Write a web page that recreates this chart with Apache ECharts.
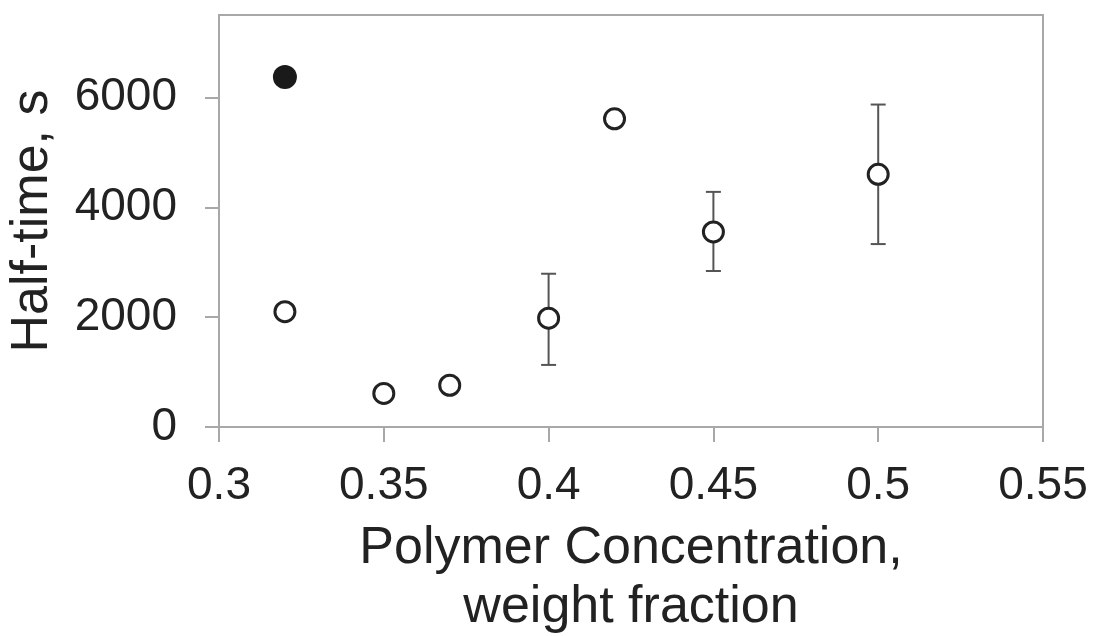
<!DOCTYPE html>
<html>
<head>
<meta charset="utf-8">
<title>Half-time vs polymer concentration</title>
<script src="https://cdn.jsdelivr.net/npm/echarts@6/dist/echarts.min.js"></script>
<style>
  html, body { margin: 0; padding: 0; background: #fff; }
  #chart { width: 1093px; height: 636px; }
</style>
</head>
<body>
<div id="chart"></div>
<script>
// Polymer concentration (weight fraction) and measured half-time (s)
const concentration = [0.32, 0.35, 0.37, 0.40, 0.42, 0.45, 0.50];
const halfTime      = [2100, 610, 760, 1980, 5610, 3550, 4600];
// Error bar bounds (null where no bar is drawn)
const errLow  = [null, null, null, 1130, null, 2840, 3330];
const errHigh = [null, null, null, 2790, null, 4280, 5870];
// Separate filled-marker measurement
const filledConcentration = [0.32];
const filledHalfTime      = [6370];
// Axis tick values
const xTicks = [0.3, 0.35, 0.4, 0.45, 0.5, 0.55];
const yTicks = [0, 2000, 4000, 6000];

const FONT = "'Liberation Sans', Arial, Helvetica, sans-serif";
const TEXT = '#222222';
const FRAME = '#a8a8a8';

const openPoints = concentration.map((c, i) => [c, halfTime[i]]);
const filledPoints = filledConcentration.map((c, i) => [c, filledHalfTime[i]]);
const errorBars = concentration
  .map((c, i) => [c, errLow[i], errHigh[i]])
  .filter(d => d[1] != null && d[2] != null);

const chart = echarts.init(document.getElementById('chart'), null, { renderer: 'canvas' });

chart.setOption({
  animation: false,
  backgroundColor: '#ffffff',
  grid: {
    left: 219, right: 50, top: 15, bottom: 209,
    containLabel: false,
    outerBoundsMode: 'none',
    show: true, borderColor: FRAME, borderWidth: 2, backgroundColor: 'transparent'
  },
  xAxis: {
    type: 'value',
    min: 0.3, max: 0.55,
    name: 'Polymer Concentration,\nweight fraction',
    nameLocation: 'middle',
    nameGap: 92,
    nameTextStyle: { fontFamily: FONT, fontSize: 52, color: TEXT, lineHeight: 59 },
    axisLine: { show: true, onZero: false, lineStyle: { color: FRAME, width: 2 } },
    axisTick: { show: true, inside: false, length: 15, customValues: xTicks, lineStyle: { color: FRAME, width: 2 } },
    axisLabel: {
      customValues: xTicks,
      margin: 36,
      fontFamily: FONT, fontSize: 46, color: TEXT,
      formatter: v => String(+(+v).toFixed(2))
    },
    splitLine: { show: false }
  },
  yAxis: {
    type: 'value',
    min: 0, max: 7500,
    name: 'Half-time, s',
    nameLocation: 'middle',
    nameGap: 160,
    nameRotate: 90,
    nameTextStyle: { fontFamily: FONT, fontSize: 52, color: TEXT },
    axisLine: { show: true, onZero: false, lineStyle: { color: FRAME, width: 2 } },
    axisTick: { show: true, inside: false, length: 14, customValues: yTicks, lineStyle: { color: FRAME, width: 2 } },
    axisLabel: {
      customValues: yTicks,
      margin: 42,
      fontFamily: FONT, fontSize: 46, color: TEXT,
      formatter: v => String(Math.round(v))
    },
    splitLine: { show: false }
  },
  series: [
    {
      name: 'error',
      type: 'custom',
      z: 1,
      data: errorBars,
      encode: { x: 0, y: [1, 2] },
      renderItem: function (params, api) {
        const x = api.value(0);
        const lo = api.coord([x, api.value(1)]);
        const hi = api.coord([x, api.value(2)]);
        const half = 7.5;
        const style = { stroke: '#555555', lineWidth: 2 };
        return {
          type: 'group',
          children: [
            { type: 'line', shape: { x1: lo[0], y1: lo[1], x2: hi[0], y2: hi[1] }, style },
            { type: 'line', shape: { x1: hi[0] - half, y1: hi[1], x2: hi[0] + half, y2: hi[1] }, style },
            { type: 'line', shape: { x1: lo[0] - half, y1: lo[1], x2: lo[0] + half, y2: lo[1] }, style }
          ]
        };
      }
    },
    {
      name: 'open',
      type: 'scatter',
      z: 3,
      data: openPoints,
      symbol: 'circle',
      symbolSize: 20,
      itemStyle: { color: '#ffffff', borderColor: '#222222', borderWidth: 3, opacity: 1 }
    },
    {
      name: 'filled',
      type: 'scatter',
      z: 3,
      data: filledPoints,
      symbol: 'circle',
      symbolSize: 24,
      itemStyle: { color: '#1a1a1a', borderColor: '#1a1a1a', borderWidth: 0, opacity: 1 }
    }
  ]
});
</script>
</body>
</html>
